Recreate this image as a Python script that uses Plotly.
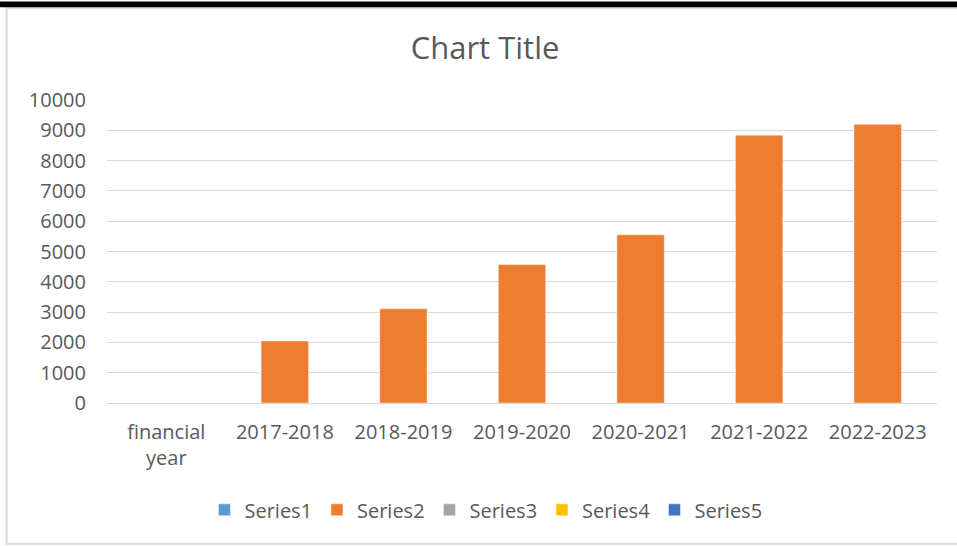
import plotly.graph_objects as go

categories = ["financial year", "2017-2018", "2018-2019", "2019-2020",
              "2020-2021", "2021-2022", "2022-2023"]
tick_labels = ["financial<br>year", "2017-2018", "2018-2019", "2019-2020",
               "2020-2021", "2021-2022", "2022-2023"]
series_names = ["Series1", "Series2", "Series3", "Series4", "Series5"]
series1 = [None] * 7
series2 = [None, 2050, 3110, 4570, 5550, 8840, 9200]
series3 = [None] * 7
series4 = [None] * 7
series5 = [None] * 7
y_ticks = [0, 1000, 2000, 3000, 4000, 5000, 6000, 7000, 8000, 9000, 10000]
y_tick_labels = [str(v) for v in y_ticks]

colors = ["#5B9BD5", "#ED7D31", "#A5A5A5", "#FFC000", "#4472C4"]
all_series = [series1, series2, series3, series4, series5]

W, H = 957, 546
L, R, T, B = 107.3, 936.7, 99.5, 403.0
pw, ph = R - L, B - T

def px_x(v):
    return (v - L) / pw

def px_y(v):
    return (B - v) / ph

FONT = "Open Sans"
GREY = "#595959"

fig = go.Figure()
for name, vals, col in zip(series_names, all_series, colors):
    fig.add_trace(go.Bar(
        x=categories, y=vals, name=name,
        marker=dict(color=col, line=dict(color="rgba(255,255,255,0.45)", width=1)),
    ))

fig.update_layout(
    width=W, height=H, autosize=False,
    margin=dict(l=L, r=W - R, t=T, b=H - B, pad=0),
    paper_bgcolor="white", plot_bgcolor="white",
    barmode="overlay", bargap=0.6,
    font=dict(family=FONT, color=GREY, size=20),
    title=dict(text="Chart Title", x=485 / W, xref="container", xanchor="center",
               y=1 - 48 / H, yref="container", yanchor="middle",
               font=dict(family=FONT, size=31, color=GREY)),
    showlegend=True,
    legend=dict(orientation="h", x=px_x(486), xanchor="center",
                y=px_y(510), yanchor="middle",
                font=dict(family=FONT, size=20, color=GREY),
                entrywidth=67.5, entrywidthmode="pixels",
                bgcolor="rgba(0,0,0,0)", traceorder="normal"),
    xaxis=dict(categoryorder="array", categoryarray=categories,
               tickvals=categories, ticktext=tick_labels,
               showgrid=False, showline=False, zeroline=False,
               ticks="", tickfont=dict(family=FONT, size=20, color=GREY),
               ticklabelstandoff=15, fixedrange=True),
    yaxis=dict(range=[0, 10000], tickvals=y_ticks, ticktext=y_tick_labels,
               showgrid=True, gridcolor="#D9D9D9", gridwidth=1,
               zeroline=True, zerolinecolor="#D9D9D9", zerolinewidth=1,
               showline=False, ticks="",
               tickfont=dict(family=FONT, size=20, color=GREY),
               ticklabelstandoff=20, fixedrange=True),
    shapes=[
        dict(type="rect", xref="paper", yref="paper",
             x0=px_x(7), x1=px_x(964), y0=px_y(544), y1=px_y(7.5),
             line=dict(color="#D9D9D9", width=2), fillcolor="rgba(0,0,0,0)",
             layer="below"),
        dict(type="rect", xref="paper", yref="paper",
             x0=px_x(-2), x1=px_x(960), y0=px_y(6.5), y1=px_y(0.8),
             line=dict(width=0), fillcolor="black", layer="above"),
    ],
)

fig.write_html("out.html",
               config={"displayModeBar": False},
               post_script="document.body.style.margin='0px';document.body.style.overflow='hidden';")
